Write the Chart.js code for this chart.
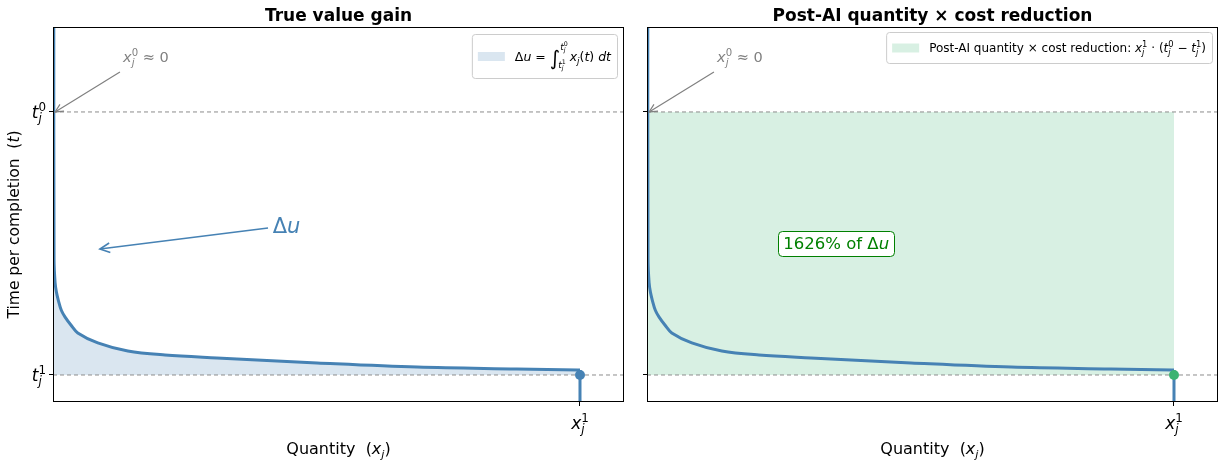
<!DOCTYPE html>
<html lang="en">
<head>
<meta charset="UTF-8">
<title>True value gain vs post-AI quantity × cost reduction</title>
<script src="https://cdn.jsdelivr.net/npm/chart.js"></script>
<style>
  body { margin: 0; background: #fff; }
  .panel { position: absolute; top: 0; height: 461px; }
  #left { left: 0; width: 634px; }
  #right { left: 634px; width: 594px; }
</style>
</head>
<body>
<div class="panel" id="left"><canvas id="c1"></canvas></div>
<div class="panel" id="right"><canvas id="c2"></canvas></div>
<script>
// --- data (normalised: t_j^1 = 0, t_j^0 = 1, x_j^1 = 1) ---
const xTicks = [1];          // x_j^1
const tTicks = [0, 1];       // t_j^1, t_j^0
const curveX = [0.0015, 0.002, 0.004, 0.0065, 0.010, 0.016, 0.023, 0.034, 0.047, 0.085, 0.142, 0.2125, 0.311, 0.501, 0.691, 0.880, 0.996, 1.0];
const curveT = [1.40,   0.44,  0.35,  0.315,  0.285, 0.245, 0.22,  0.19,  0.16,  0.122, 0.091, 0.076,  0.065, 0.046, 0.030, 0.023, 0.019, 0.019];
const tailX = [1, 1];
const tailT = [0.019, -0.2];
const rectX = [0, 1];        // x_j^1 * (t_j^0 - t_j^1)
const rectT = [1, 1];
const shareOfDu = 1626;      // percent

const X_MAX = 1.0835, T_MIN = -0.1027, T_MAX = 1.323;
const BLUE = '#4682b4', GREEN = '#3cb371';
const FONT = '"DejaVu Sans", sans-serif';

const pts = (xs, ys) => xs.map((x, i) => ({ x, y: ys[i] }));

// draws a run of text pieces; style letters: i italic, b bold, d sub, u sup, n keep x for next piece
function rich(ctx, toks, x, y, size, color, align, rot) {
  const fs = st => size * (/[du]/.test(st) ? 0.7 : 1);
  const font = st => (st.includes('i') ? 'italic ' : '') + (st.includes('b') ? 'bold ' : '') + fs(st).toFixed(2) + 'px ' + FONT;
  const dy = st => st.includes('d') ? 0.25 * size : st.includes('u') ? -0.42 * size : 0;
  let w = 0, hold = 0;
  const items = [];
  for (const [t, st = ''] of toks) {
    ctx.font = font(st);
    const tw = ctx.measureText(t).width;
    items.push({ t, st, x: w, f: ctx.font });
    if (st.includes('n')) hold = Math.max(hold, tw);
    else { w += Math.max(hold, tw); hold = 0; }
  }
  if (!ctx.__measure) {
    ctx.save();
    ctx.translate(x, y);
    if (rot) ctx.rotate(rot);
    ctx.fillStyle = color;
    ctx.textAlign = 'left';
    ctx.textBaseline = 'alphabetic';
    const x0 = align === 'center' ? -w / 2 : align === 'right' ? -w : 0;
    for (const it of items) {
      ctx.font = it.f;
      ctx.fillText(it.t, x0 + it.x, dy(it.st));
    }
    ctx.restore();
  }
  return w;
}

function measure(ctx, toks, size) {
  ctx.__measure = true;
  const w = rich(ctx, toks, 0, 0, size, '#000', 'left');
  ctx.__measure = false;
  return w;
}

function arrow(ctx, x0, y0, x1, y1, color, lw, head) {
  ctx.save();
  ctx.strokeStyle = color; ctx.lineWidth = lw;
  ctx.beginPath(); ctx.moveTo(x0, y0); ctx.lineTo(x1, y1); ctx.stroke();
  const a = Math.atan2(y1 - y0, x1 - x0);
  ctx.beginPath();
  ctx.moveTo(x1 - head * Math.cos(a - 0.45), y1 - head * Math.sin(a - 0.45));
  ctx.lineTo(x1, y1);
  ctx.lineTo(x1 - head * Math.cos(a + 0.45), y1 - head * Math.sin(a + 0.45));
  ctx.stroke();
  ctx.restore();
}

function legendBox(ctx, right, top, w, h, patchColor) {
  ctx.save();
  ctx.fillStyle = 'rgba(255,255,255,0.8)';
  ctx.strokeStyle = '#cccccc'; ctx.lineWidth = 1;
  ctx.beginPath(); ctx.roundRect(right - w + 0.5, top + 0.5, w, h, 3); ctx.fill(); ctx.stroke();
  ctx.fillStyle = patchColor;
  ctx.fillRect(right - w + 6, top + h / 2 - 4, 27, 9);
  ctx.restore();
  return right - w + 6 + 27 + 10;
}

const tj = s => [['t', 'i'], ['j', 'idn'], [s, 'u']];

function decoPlugin(p) {
  return {
    id: 'deco',
    afterDatasetsDraw(chart) {
      const { ctx, chartArea: a } = chart;
      ctx.save();
      ctx.strokeStyle = '#000'; ctx.lineWidth = 1;
      ctx.strokeRect(a.left + 0.5, a.top + 0.5, a.right - a.left - 1, a.bottom - a.top - 1);
      ctx.restore();
    },
    afterDraw(chart) {
      const { ctx, chartArea: a, scales: { x, y } } = chart;
      const cx = (a.left + a.right) / 2;
      // title
      ctx.save();
      ctx.font = 'bold 17px ' + FONT; ctx.fillStyle = '#000'; ctx.textAlign = 'center';
      ctx.fillText(p.title, cx, 21);
      ctx.restore();
      // tick labels
      if (p.yLabels) {
        rich(ctx, tj('0'), a.left - 7, y.getPixelForValue(tTicks[1]) + 6, 17, '#000', 'right');
        rich(ctx, tj('1'), a.left - 7, y.getPixelForValue(tTicks[0]) + 6, 17, '#000', 'right');
        rich(ctx, [['Time per completion  ('], ['t', 'i'], [')']], 19, (a.top + a.bottom) / 2 + 10, 15.5, '#000', 'center', -Math.PI / 2);
      }
      rich(ctx, [['x', 'i'], ['j', 'idn'], ['1', 'u']], x.getPixelForValue(xTicks[0]), 429, 17, '#000', 'center');
      rich(ctx, [['Quantity  ('], ['x', 'i'], ['j', 'id'], [')']], cx, 454, 16, '#000', 'center');
      // x_j^0 ~ 0 note
      rich(ctx, [['x', 'i'], ['j', 'idn'], ['0', 'u'], [' ≈ 0']], x.getPixelForValue(0.133), y.getPixelForValue(1.19), 14.5, '#808080', 'left');
      arrow(ctx, x.getPixelForValue(0.127), y.getPixelForValue(1.152), x.getPixelForValue(0.004), y.getPixelForValue(1.0), '#808080', 1.2, 9);
      p.extra(chart);
    }
  };
}

function leftExtra(chart) {
  const { ctx, chartArea: a, scales: { x, y } } = chart;
  arrow(ctx, x.getPixelForValue(0.408), y.getPixelForValue(0.559), x.getPixelForValue(0.089), y.getPixelForValue(0.479), BLUE, 1.6, 11);
  rich(ctx, [['Δ'], ['u', 'i']], x.getPixelForValue(0.417), y.getPixelForValue(0.54), 21, BLUE, 'left');
  // legend: Δu = ∫ x_j(t) dt
  const fs = 12.5;
  const lim = 9;
  const wA = measure(ctx, [['Δ'], ['u', 'i'], [' = ']], fs);
  ctx.font = '20px ' + FONT; const wI = ctx.measureText('∫').width;
  const wL = Math.max(measure(ctx, tj('0'), lim), measure(ctx, tj('1'), lim));
  const wB = measure(ctx, [['x', 'i'], ['j', 'id'], ['('], ['t', 'i'], [')'], [' '], ['dt', 'i']], fs);
  const w = 6 + 27 + 10 + wA + wI + wL + 2 + wB + 6;
  let tx = legendBox(ctx, a.right - 7, a.top + 7, w, 44, 'rgba(70,130,180,0.2)');
  const base = a.top + 7 + 22 + 5;
  tx += rich(ctx, [['Δ'], ['u', 'i'], [' = ']], tx, base, fs, '#000', 'left');
  ctx.save(); ctx.font = '20px ' + FONT; ctx.fillStyle = '#000'; ctx.fillText('∫', tx, base + 4); ctx.restore();
  tx += wI;
  rich(ctx, tj('0'), tx, base - 11, lim, '#000', 'left');
  rich(ctx, tj('1'), tx - 2, base + 7, lim, '#000', 'left');
  tx += wL + 2;
  rich(ctx, [['x', 'i'], ['j', 'id'], ['('], ['t', 'i'], [')'], [' '], ['dt', 'i']], tx, base, fs, '#000', 'left');
}

function rightExtra(chart) {
  const { ctx, chartArea: a, scales: { x, y } } = chart;
  // percentage box
  const bx = x.getPixelForValue(0.359), by = y.getPixelForValue(0.502);
  const toks = [[shareOfDu + '% of Δ'], ['u', 'i']];
  const w = measure(ctx, toks, 16.5);
  ctx.save();
  ctx.fillStyle = '#fff'; ctx.strokeStyle = 'green'; ctx.lineWidth = 1;
  ctx.beginPath(); ctx.roundRect(Math.round(bx - w / 2 - 5) + 0.5, Math.round(by - 12) + 0.5, Math.round(w + 10), 25, 4); ctx.fill(); ctx.stroke();
  ctx.restore();
  rich(ctx, toks, bx, by + 6, 16.5, 'green', 'center');
  // legend
  const fs = 12;
  const lt = [['Post-AI quantity × cost reduction: '], ['x', 'i'], ['j', 'idn'], ['1', 'u'], [' · ('], ...tj('0'), [' − '], ...tj('1'), [')']];
  const lw = 6 + 27 + 10 + measure(ctx, lt, fs) + 6;
  const tx = legendBox(ctx, a.right - 6, a.top + 5, lw, 31, 'rgba(60,179,113,0.2)');
  rich(ctx, lt, tx, a.top + 5 + 15.5 + 4.5, fs, '#000', 'left');
}

function makePanel(id, p) {
  const datasets = [
    { data: pts([0, X_MAX], [tTicks[1], tTicks[1]]), borderColor: '#8c8c8c', borderWidth: 1, borderDash: [4, 3], order: 3 },
    { data: pts([0, X_MAX], [tTicks[0], tTicks[0]]), borderColor: '#8c8c8c', borderWidth: 1, borderDash: [4, 3], order: 3 },
    { data: pts(curveX, curveT), borderColor: BLUE, borderWidth: 3, tension: 0.35, order: 1,
      fill: p.fillCurve ? { value: tTicks[0] } : false, backgroundColor: 'rgba(70,130,180,0.2)' },
    { data: pts(tailX, tailT), borderColor: BLUE, borderWidth: 3, order: 1 },
    { data: [{ x: xTicks[0], y: tTicks[0] }], showLine: false, pointRadius: 5, pointBackgroundColor: p.dot, pointBorderWidth: 0, order: 0 }
  ];
  if (p.rect) {
    datasets.push({ data: pts(rectX, rectT), borderWidth: 0, fill: { value: tTicks[0] },
      backgroundColor: 'rgba(60,179,113,0.2)', order: 4 });
  }
  datasets.forEach(d => { if (d.pointRadius === undefined) d.pointRadius = 0; if (d.tension === undefined) d.tension = 0; d.clip = 0; });

  return new Chart(document.getElementById(id), {
    type: 'line',
    data: { datasets },
    options: {
      responsive: true, maintainAspectRatio: false, animation: false, events: [],
      layout: { padding: { left: 0, right: 10, top: 27, bottom: 0 } },
      plugins: { legend: { display: false }, tooltip: { enabled: false }, filler: { drawTime: 'beforeDatasetsDraw' } },
      scales: {
        x: {
          type: 'linear', min: 0, max: X_MAX,
          afterBuildTicks: s => { s.ticks = xTicks.map(v => ({ value: v })); },
          afterFit: s => { s.height = 59; },
          ticks: { display: false },
          grid: { drawOnChartArea: false, tickLength: 4, tickColor: '#000' },
          border: { display: false }
        },
        y: {
          type: 'linear', min: T_MIN, max: T_MAX,
          afterBuildTicks: s => { s.ticks = tTicks.map(v => ({ value: v })); },
          afterFit: s => { s.width = p.yWidth; },
          ticks: { display: false },
          grid: { drawOnChartArea: false, tickLength: 4, tickColor: '#000' },
          border: { display: false }
        }
      }
    },
    plugins: [decoPlugin(p)]
  });
}

makePanel('c1', { title: 'True value gain', yLabels: true, yWidth: 53, fillCurve: true, dot: BLUE, extra: leftExtra });
makePanel('c2', { title: 'Post-AI quantity × cost reduction', yLabels: false, yWidth: 13, fillCurve: false, rect: true, dot: GREEN, extra: rightExtra });
</script>
</body>
</html>
